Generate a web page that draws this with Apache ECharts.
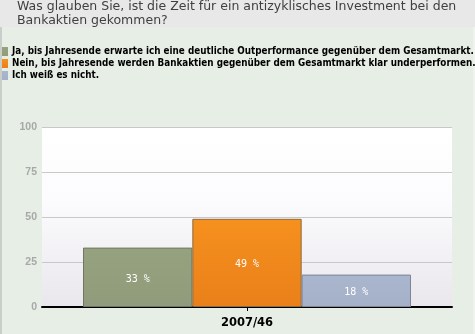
<!DOCTYPE html>
<html><head><meta charset="utf-8">
<script src="https://cdn.jsdelivr.net/npm/echarts@6/dist/echarts.min.js"></script>
<style>html,body{margin:0;padding:0;background:#e7eee6;}#c{width:475px;height:334px;}</style>
</head><body><div id="c"></div>
<script>
const titleText = 'Was glauben Sie, ist die Zeit für ein antizyklisches Investment bei den\nBankaktien gekommen?';
const categories = ['2007/46'];
const seriesNames = [
  'Ja, bis Jahresende erwarte ich eine deutliche Outperformance gegenüber dem Gesamtmarkt.',
  'Nein, bis Jahresende werden Bankaktien gegenüber dem Gesamtmarkt klar underperformen.',
  'Ich weiß es nicht.'
];
const values = [33, 49, 18];
const colors = ['#96a27f', '#f6901e', '#a9b6cd'];
const colorsBottom = ['#8f9b7a', '#e9801a', '#a5b1c8'];
const borderColors = ['#6f7760', '#8a6a40', '#7d8596'];
const yTicks = [0, 25, 50, 75, 100];

const chart = echarts.init(document.getElementById('c'), null, {renderer: 'canvas'});
const series = seriesNames.map((n, i) => ({
  name: n,
  type: 'bar',
  data: [values[i]],
  barGap: '0%',
  barCategoryGap: '20%',
  itemStyle: {
    color: new echarts.graphic.LinearGradient(0, 0, 0, 1, [{offset: 0, color: colors[i]}, {offset: 1, color: colorsBottom[i]}]),
    borderColor: borderColors[i], borderWidth: 1
  },
  label: {show: true, position: 'inside', formatter: '{c} %', color: '#ffffff',
          fontFamily: 'DejaVu Sans Mono', fontSize: 10, offset: [0, 2]}
}));
chart.setOption({
  animation: false,
  backgroundColor: '#e7eee6',
  graphic: [
    {type: 'rect', shape: {x: 0, y: 0, width: 475, height: 27}, style: {fill: '#e8e8e8'}, z: -1},
    {type: 'rect', shape: {x: 0, y: 27, width: 2, height: 307}, style: {fill: '#c9cec8'}, z: -1},
    {type: 'rect', shape: {x: 473, y: 27, width: 2, height: 307}, style: {fill: '#f0f4ef'}, z: -1}
  ],
  title: {
    text: titleText, left: 17, top: 0, padding: 0,
    textStyle: {fontFamily: 'DejaVu Sans', fontWeight: 'normal', fontSize: 12.5, lineHeight: 14, color: '#404040'}
  },
  legend: {
    orient: 'vertical', left: 2, top: 46, padding: 0, itemGap: 1,
    itemWidth: 6, itemHeight: 9, icon: 'rect',
    itemStyle: {borderWidth: 0},
    textStyle: {fontFamily: 'DejaVu Sans Condensed', fontWeight: 'bold', fontSize: 9.8, lineHeight: 11, color: '#000', padding: [0, 0, 0, -1]},
    data: seriesNames
  },
  grid: {left: 42, right: 23, top: 127, bottom: 27, show: true,
         backgroundColor: new echarts.graphic.LinearGradient(0, 0, 0, 1, [
           {offset: 0, color: '#ffffff'}, {offset: 0.4, color: '#fcfbfd'}, {offset: 1, color: '#e9e7ec'}]),
         borderWidth: 0},
  xAxis: {
    type: 'category', data: categories,
    axisLine: {lineStyle: {color: '#000', width: 2}},
    axisTick: {show: true, alignWithLabel: true, length: 4, lineStyle: {color: '#000', width: 1}},
    axisLabel: {fontFamily: 'DejaVu Sans', fontWeight: 'bold', fontSize: 11.5, color: '#000', margin: 10}
  },
  yAxis: {
    type: 'value', min: 0, max: 100, interval: 25,
    axisLine: {show: false}, axisTick: {show: false},
    splitLine: {lineStyle: {color: '#c8c8c8', width: 1}},
    axisLabel: {fontFamily: 'Liberation Sans', fontWeight: 'bold', fontSize: 10.5, color: '#a8a8a8', margin: 5,
                formatter: v => yTicks.includes(v) ? String(v) : ''}
  },
  series: series
});
</script></body></html>
